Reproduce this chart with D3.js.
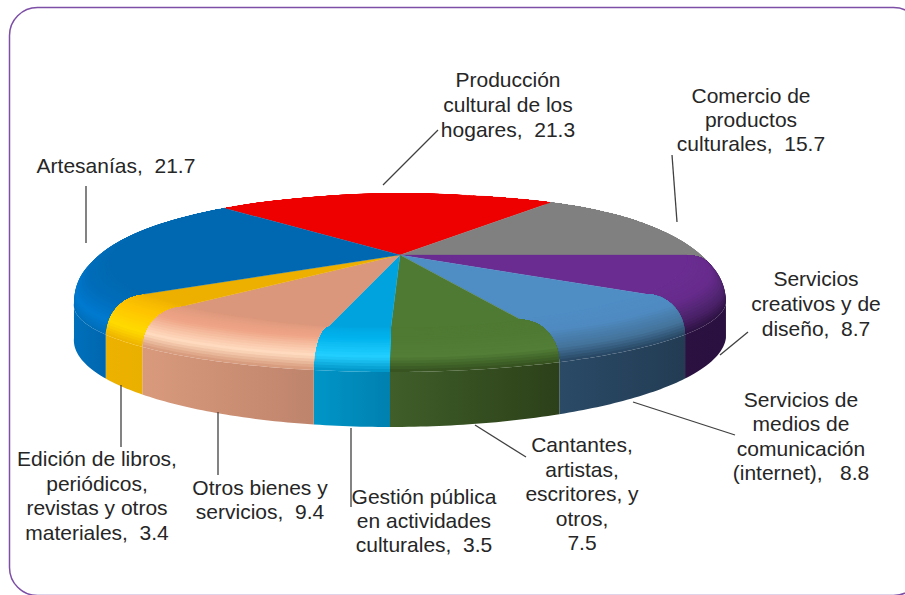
<!DOCTYPE html>
<html lang="es">

<head>
  <meta charset="UTF-8">
  <script src="https://d3js.org/d3.v7.min.js"></script>
  <title>Pie</title>
  <style>
    html, body {
      margin: 0;
      padding: 0;
      background: #fff;
      overflow: hidden;
    }

    text {
      font-family: 'Liberation Sans', Arial, sans-serif;
      font-size: 21px;
      fill: #262626;
      white-space: pre;
    }
  </style>
</head>

<body>
  <svg id="chart" width="905" height="595"></svg>
  <script>
    const categories = ["Producción cultural de los hogares", "Comercio de productos culturales",
      "Servicios creativos y de diseño", "Servicios de medios de comunicación (internet)",
      "Cantantes, artistas, escritores, y otros", "Gestión pública en actividades culturales",
      "Otros bienes y servicios", "Edición de libros, periódicos, revistas y otros materiales", "Artesanías"];
    const values = [21.3, 15.7, 8.7, 8.8, 7.5, 3.5, 9.4, 3.4, 21.7];
    const labelLines = [
      ["Producción", "cultural de los", "hogares,  "],
      ["Comercio de", "productos", "culturales,  "],
      ["Servicios", "creativos y de", "diseño,  "],
      ["Servicios de", "medios de", "comunicación", "(internet),   "],
      ["Cantantes,", "artistas,", "escritores, y", "otros,", ""],
      ["Gestión pública", "en actividades", "culturales,  "],
      ["Otros bienes y", "servicios,  "],
      ["Edición de libros,", "periódicos,", "revistas y otros", "materiales,  "],
      ["Artesanías,  "]
    ];

    // styles, same order as the values
    const topColors = ["#ee0000", "#808080", "#6a2c91", "#4f8dc5", "#4f7a33", "#00a3de", "#db977b", "#eeb000", "#0068b0"];
    const midColors = ["#ee0000", "#808080", "#672b8c", "#4f8bc2", "#4f7a33", "#00b2ec", "#efa486", "#ffc400", "#006dba"];
    const hiColors = ["#ee0000", "#8c8c8c", "#4a2268", "#44739b", "#527e37", "#22cfff", "#ffdcc0", "#ffda00", "#007ad0"];
    const edgeColors = ["#ee0000", "#a8a8a8", "#2b1141", "#274560", "#34501f", "#0092c4", "#d49578", "#edb200", "#006eb8"];
    const wallLeft = ["#ee0000", "#808080", "#2b1140", "#2a4a66", "#3f5e29", "#0096c8", "#d99a7c", "#edb200", "#0070bc"];
    const wallRight = ["#ee0000", "#808080", "#2a1040", "#233c54", "#2c4019", "#0080af", "#be846c", "#eab000", "#0066ae"];

    // layout of the labels and their leader lines
    const labelPos = [[508, 87], [751, 103], [816, 286], [801, 407], [582, 452], [424, 504], [260, 495], [97, 466], [116, 173]];
    const lineHeights = [25, 24, 25, 24.4, 24.5, 24, 24, 24.6, 24];
    const leaders = [
      [[383, 185], [438, 130]], [[677, 222], [672, 155]], [[720, 355], [748, 332]],
      [[633, 402], [735, 435]], [[475, 425], [526, 457]], [[351, 428], [351, 507]],
      [[218, 412], [218, 475]], [[121, 385], [121, 447]], [[86, 243], [86, 186]]
    ];

    const svg = d3.select("#chart");

    // frame
    svg.append("rect").attr("x", 9.5).attr("y", 7.5).attr("width", 912).attr("height", 588).attr("rx", 28)
      .attr("fill", "#fff").attr("stroke", "#7d4fa6").attr("stroke-width", 1.5);

    const deg = Math.PI / 180;
    const pie = d3.pie().sort(null)
      .startAngle(-43.2 * deg).endAngle((360 - 43.2) * deg);
    const slices = pie(values);

    // the disc is seen in perspective: angle from the front of the disc -> angle on the outline
    const warp = d3.scaleLinear().domain([0, 13, 26, 47, 60, 90, 137, 147, 180]).range([0, 14, 30, 51, 64, 106, 147.5, 153, 180]);
    const rim = d3.scaleLinear().domain([0, 30, 50, 60, 90, 140, 180]).range([.72, .74, .79, .83, .92, .97, .98]);
    const bandT = t => [Math.sin(t * Math.PI / 2), 1 - Math.cos(t * Math.PI / 2)];

    const frontDev = a => Math.abs(((a / deg - 180) % 360 + 540) % 360 - 180);
    // point of the flat top face
    const inner = a => {
      const r = rim(frontDev(a));
      const u = r * Math.sin(a), v = -r * Math.cos(a);
      const w = 1 - .287 * v;
      const spread = 312 + 25 * Math.max(0, -v);
      return [400 + (spread * u - 10 * v) / w, 255 + 79.8 * v / w];
    };
    const outerPhi = a => warp(frontDev(a)) * deg;
    const outerX = a => {
      const p = outerPhi(a), s = Math.sin(a) >= 0 ? 1 : -1;
      return 400 + 326 * s * Math.sin(p) - (p < Math.PI / 2 ? 10 * Math.cos(p) : 0);
    };
    const outerTop = a => {
      const p = outerPhi(a);
      return [outerX(a), p <= Math.PI / 2 ? 303 + 69 * Math.cos(p) : 303 + 110 * Math.cos(p)];
    };
    const outerBottom = a => {
      const p = outerPhi(a);
      return [outerX(a), 337.5 + 89.5 * Math.max(0, Math.cos(p))];
    };
    const bevelPoint = (a, t) => {
      const p = inner(a), q = outerTop(a), e = bandT(t);
      return [p[0] + (q[0] - p[0]) * e[0], p[1] + (q[1] - p[1]) * e[1]];
    };
    const steps = d => d3.range(0, 1.0001, 1 / Math.max(2, Math.ceil((d.endAngle - d.startAngle) / deg)))
      .map(f => d.startAngle + (d.endAngle - d.startAngle) * f);

    const line = d3.line();
    const defs = svg.append("defs");
    const disc = svg.append("g");
    const nBands = 24;

    slices.forEach((d, i) => {
      const angles = steps(d);
      const first = angles[0], last = angles[angles.length - 1];
      // side wall, front part only
      const front = angles.filter(a => outerPhi(a) < 90 * deg + .02);
      if (front.length > 1) {
        const xs = d3.extent(front, outerX);
        const grad = defs.append("linearGradient").attr("id", "wall" + i)
          .attr("gradientUnits", "userSpaceOnUse").attr("x1", xs[0]).attr("x2", xs[1]).attr("y1", 0).attr("y2", 0);
        grad.append("stop").attr("offset", 0).attr("stop-color", wallLeft[i]);
        grad.append("stop").attr("offset", 1).attr("stop-color", wallRight[i]);
        const pts = front.map(outerTop).concat(front.slice().reverse().map(outerBottom));
        disc.append("path").attr("d", line(pts) + "Z").attr("fill", "url(#wall" + i + ")");
      }
      // bevel: bands painted from the wall up to the top face, each one runs back along the curved seams
      const color = d3.scaleLinear().domain([0, .45, .78, 1])
        .range([topColors[i], midColors[i], hiColors[i], edgeColors[i]]);
      d3.range(nBands, 0, -1).forEach(b => {
        const t1 = b / nBands;
        const seam = d3.range(0, b + 1).map(k => k / nBands);
        const pts = seam.map(t => bevelPoint(first, t))
          .concat(angles.map(a => bevelPoint(a, t1)))
          .concat(seam.slice().reverse().map(t => bevelPoint(last, t)))
          .concat(angles.slice().reverse().map(inner));
        disc.append("path").attr("d", line(pts) + "Z").attr("fill", color((b - .5) / nBands));
      });
      // flat top
      disc.append("path").attr("d", line([[400, 255]].concat(angles.map(inner))) + "Z")
        .attr("fill", topColors[i]).attr("stroke", topColors[i]).attr("stroke-width", .3);
    });

    // leader lines
    svg.append("g").selectAll("path").data(leaders).enter().append("path")
      .attr("d", d => line(d)).attr("fill", "none").attr("stroke", "#404040").attr("stroke-width", 1.3);

    // labels
    const labels = svg.append("g").selectAll("text").data(categories).enter().append("text")
      .attr("text-anchor", "middle")
      .attr("aria-label", d => d);
    labels.each(function (d, i) {
      const rows = labelLines[i];
      d3.select(this).selectAll("tspan").data(rows).enter().append("tspan")
        .attr("x", labelPos[i][0])
        .attr("y", (r, k) => labelPos[i][1] + k * lineHeights[i])
        .text((r, k) => k === rows.length - 1 ? r + values[i].toFixed(1) : r);
    });
  </script>
</body>

</html>
